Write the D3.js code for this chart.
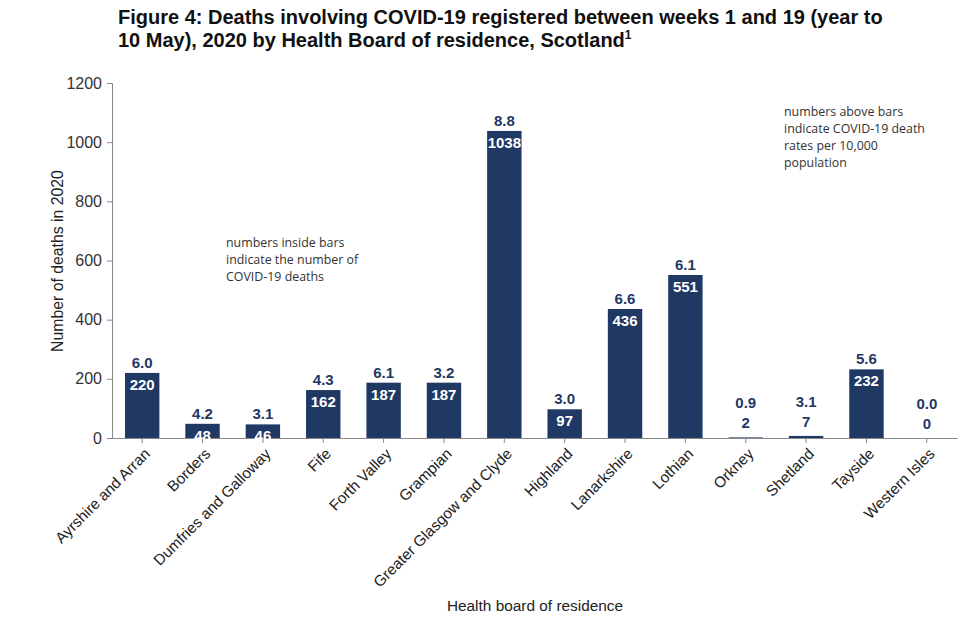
<!DOCTYPE html>
<html><head><meta charset="utf-8">
<script src="https://cdn.jsdelivr.net/npm/d3@7"></script>
<style>body{margin:0;background:#fff}svg{display:block}</style>
</head><body>
<script>
const categories = ["Ayrshire and Arran","Borders","Dumfries and Galloway","Fife","Forth Valley","Grampian","Greater Glasgow and Clyde","Highland","Lanarkshire","Lothian","Orkney","Shetland","Tayside","Western Isles"];
const deaths = [220,48,46,162,187,187,1038,97,436,551,2,7,232,0];
const rates = ["6.0","4.2","3.1","4.3","6.1","3.2","8.8","3.0","6.6","6.1","0.9","3.1","5.6","0.0"];
const yTicks = [0,200,400,600,800,1000,1200];

const W=976,H=629;
const navy="#1f3864";
const lf="Liberation Sans, Arial, sans-serif";
const svg=d3.select("body").append("svg").attr("width",W).attr("height",H);
const x=d3.scaleBand().domain(categories).range([112,957]).paddingInner(0.43).paddingOuter(0.215);
const y=d3.scaleLinear().domain([0,1200]).range([438,83]);

// title
const t=svg.append("text").attr("font-family",lf).attr("font-weight","bold").attr("font-size",20).attr("fill","#111");
t.append("tspan").attr("x",118).attr("y",24).text("Figure 4: Deaths involving COVID-19 registered between weeks 1 and 19 (year to");
t.append("tspan").attr("x",118).attr("y",47).text("10 May), 2020 by Health Board of residence, Scotland");
t.append("tspan").attr("font-size",12).attr("dy",-8).text("1");

// y axis
const ya=svg.append("g").attr("transform","translate(112,0)").call(d3.axisLeft(y).tickValues(yTicks).tickFormat(d3.format("d")).tickSize(5).tickPadding(5));
ya.select(".domain").attr("stroke","#888");
ya.selectAll(".tick line").attr("stroke","#888");
ya.selectAll(".tick text").attr("font-family",lf).attr("font-size",16).attr("fill","#333");

// bars
svg.selectAll("rect.bar").data(categories).join("rect").attr("class","bar")
  .attr("x",d=>x(d)).attr("width",x.bandwidth())
  .attr("y",(d,i)=>y(deaths[i])).attr("height",(d,i)=>y(0)-y(deaths[i])).attr("fill",navy);

// x axis
const xa=svg.append("g").attr("transform","translate(0,438)").call(d3.axisBottom(x).tickSize(5).tickSizeOuter(0));
xa.select(".domain").attr("stroke","#888");
xa.selectAll(".tick line").attr("stroke","#888");
xa.selectAll(".tick text").attr("font-family",lf).attr("font-size",15.3).attr("fill","#222")
  .attr("text-anchor","end").attr("transform","translate(5,13) rotate(-45)").attr("dy","0.35em").attr("y",0).attr("x",0);

// labels
categories.forEach((c,i)=>{
  const cx=x(c)+x.bandwidth()/2, top=y(deaths[i]);
  const small=deaths[i]<20;
  if(small){
    svg.append("text").attr("x",cx).attr("y",top-9).attr("text-anchor","middle").attr("font-family",lf).attr("font-weight","bold").attr("font-size",15).attr("fill",navy).text(deaths[i]);
    svg.append("text").attr("x",cx).attr("y",top-29).attr("text-anchor","middle").attr("font-family",lf).attr("font-weight","bold").attr("font-size",15).attr("fill",navy).text(rates[i]);
  } else {
    svg.append("text").attr("x",cx).attr("y",top+17).attr("text-anchor","middle").attr("font-family",lf).attr("font-weight","bold").attr("font-size",15).attr("fill","#fff").text(deaths[i]);
    svg.append("text").attr("x",cx).attr("y",top-5).attr("text-anchor","middle").attr("font-family",lf).attr("font-weight","bold").attr("font-size",15).attr("fill",navy).text(rates[i]);
  }
});

// axis titles
svg.append("text").attr("transform","translate(63,261) rotate(-90)").attr("text-anchor","middle").attr("font-family",lf).attr("font-size",15.8).attr("fill","#222").text("Number of deaths in 2020");
svg.append("text").attr("x",535).attr("y",611).attr("text-anchor","middle").attr("font-family",lf).attr("font-size",15.4).attr("fill","#222").text("Health board of residence");

// notes
const nf="Open Sans, Lato, sans-serif";
const n1=["numbers inside bars","indicate the number of","COVID-19 deaths"];
n1.forEach((s,i)=>svg.append("text").attr("x",226).attr("y",247+i*17).attr("font-family",nf).attr("font-size",12.4).attr("fill","#333").text(s));
const n2=["numbers above bars","indicate COVID-19 death","rates per 10,000","population"];
n2.forEach((s,i)=>svg.append("text").attr("x",784).attr("y",116+i*17).attr("font-family",nf).attr("font-size",12.4).attr("fill","#333").text(s));
</script>
</body></html>
